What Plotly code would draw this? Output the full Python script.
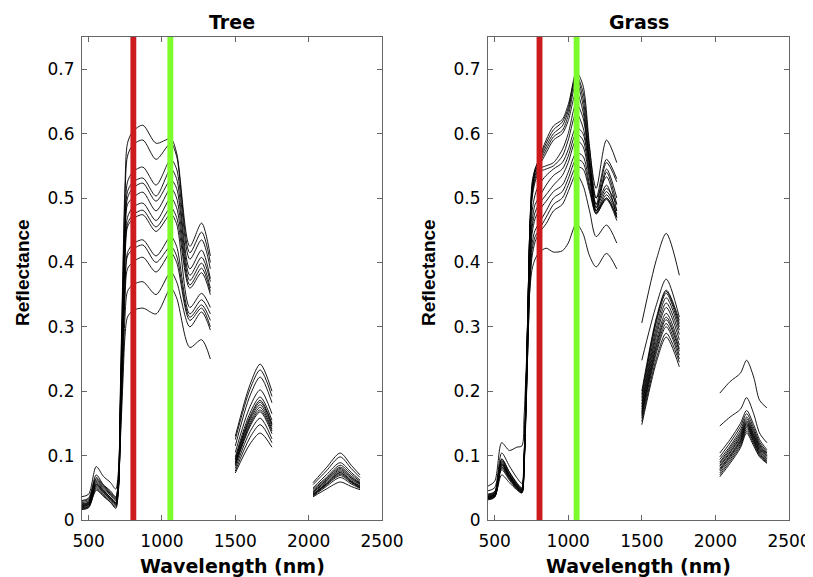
import plotly.graph_objects as go

# ---------------- data ----------------
TREE_WL_A = [450, 500, 552, 600, 650, 685, 703, 718, 733, 748, 765, 800, 870, 960, 1060, 1100, 1190, 1270, 1330]
TREE_A = [
    [0.025, 0.028, 0.060, 0.048, 0.038, 0.030, 0.060, 0.22, 0.38, 0.52, 0.585, 0.603, 0.613, 0.585, 0.592, 0.570, 0.425, 0.461, 0.410],
    [0.020, 0.024, 0.055, 0.045, 0.034, 0.026, 0.055, 0.21, 0.365, 0.50, 0.565, 0.582, 0.590, 0.560, 0.585, 0.565, 0.415, 0.447, 0.400],
    [0.030, 0.034, 0.070, 0.055, 0.045, 0.036, 0.065, 0.20, 0.34, 0.465, 0.525, 0.540, 0.548, 0.520, 0.560, 0.545, 0.405, 0.435, 0.390],
    [0.018, 0.021, 0.050, 0.040, 0.030, 0.022, 0.050, 0.19, 0.33, 0.45, 0.510, 0.524, 0.531, 0.503, 0.545, 0.530, 0.390, 0.419, 0.375],
    [0.022, 0.025, 0.058, 0.046, 0.035, 0.027, 0.055, 0.19, 0.325, 0.445, 0.500, 0.515, 0.523, 0.495, 0.528, 0.515, 0.380, 0.408, 0.370],
    [0.016, 0.019, 0.046, 0.037, 0.027, 0.018, 0.045, 0.185, 0.315, 0.43, 0.490, 0.500, 0.509, 0.480, 0.515, 0.500, 0.372, 0.399, 0.360],
    [0.036, 0.040, 0.083, 0.068, 0.058, 0.048, 0.075, 0.19, 0.31, 0.42, 0.470, 0.485, 0.492, 0.465, 0.500, 0.485, 0.365, 0.391, 0.355],
    [0.024, 0.027, 0.062, 0.050, 0.040, 0.032, 0.060, 0.175, 0.30, 0.41, 0.460, 0.473, 0.481, 0.455, 0.485, 0.470, 0.360, 0.384, 0.350],
    [0.019, 0.022, 0.052, 0.042, 0.032, 0.024, 0.050, 0.17, 0.295, 0.40, 0.455, 0.467, 0.474, 0.448, 0.475, 0.460, 0.330, 0.352, 0.330],
    [0.027, 0.030, 0.064, 0.052, 0.041, 0.033, 0.060, 0.16, 0.27, 0.37, 0.415, 0.428, 0.435, 0.410, 0.440, 0.425, 0.320, 0.342, 0.320],
    [0.021, 0.024, 0.054, 0.043, 0.033, 0.025, 0.050, 0.155, 0.265, 0.36, 0.410, 0.420, 0.427, 0.400, 0.425, 0.410, 0.315, 0.334, 0.310],
    [0.017, 0.020, 0.048, 0.038, 0.028, 0.020, 0.045, 0.15, 0.255, 0.345, 0.390, 0.400, 0.408, 0.385, 0.415, 0.400, 0.310, 0.329, 0.300],
    [0.023, 0.026, 0.056, 0.045, 0.035, 0.027, 0.052, 0.14, 0.23, 0.315, 0.355, 0.365, 0.370, 0.350, 0.385, 0.370, 0.300, 0.323, 0.295],
    [0.029, 0.032, 0.066, 0.054, 0.043, 0.035, 0.060, 0.13, 0.21, 0.285, 0.315, 0.325, 0.329, 0.320, 0.360, 0.345, 0.268, 0.280, 0.250],
]
TREE_WL_B = [1500, 1600, 1670, 1750]
TREE_B = [
    [0.130, 0.210, 0.242, 0.200],
    [0.125, 0.203, 0.233, 0.192],
    [0.115, 0.193, 0.222, 0.182],
    [0.105, 0.176, 0.202, 0.165],
    [0.098, 0.166, 0.191, 0.155],
    [0.095, 0.161, 0.186, 0.150],
    [0.093, 0.158, 0.183, 0.148],
    [0.090, 0.155, 0.179, 0.145],
    [0.088, 0.151, 0.175, 0.141],
    [0.086, 0.148, 0.171, 0.138],
    [0.084, 0.145, 0.168, 0.134],
    [0.080, 0.137, 0.158, 0.126],
    [0.076, 0.128, 0.148, 0.120],
    [0.073, 0.118, 0.135, 0.113],
]
TREE_WL_C = [2030, 2120, 2215, 2290, 2350]
TREE_C = [
    [0.058, 0.081, 0.104, 0.085, 0.070],
    [0.055, 0.076, 0.098, 0.080, 0.066],
    [0.050, 0.070, 0.089, 0.074, 0.062],
    [0.048, 0.066, 0.085, 0.071, 0.060],
    [0.046, 0.064, 0.082, 0.068, 0.058],
    [0.044, 0.062, 0.080, 0.066, 0.057],
    [0.043, 0.061, 0.078, 0.065, 0.056],
    [0.042, 0.059, 0.076, 0.063, 0.055],
    [0.040, 0.057, 0.074, 0.061, 0.053],
    [0.040, 0.056, 0.073, 0.060, 0.052],
    [0.039, 0.055, 0.071, 0.059, 0.051],
    [0.038, 0.054, 0.069, 0.058, 0.050],
    [0.037, 0.052, 0.066, 0.056, 0.049],
    [0.036, 0.048, 0.059, 0.052, 0.047],
]

GRASS_WL_A = [450, 500, 548, 600, 650, 685, 700, 715, 728, 740, 755, 775, 800, 850, 900, 960, 1000, 1055, 1100, 1145, 1190, 1260, 1330]
GRASS_A = [
    [0.040, 0.044, 0.095, 0.075, 0.058, 0.050, 0.100, 0.22, 0.35, 0.46, 0.525, 0.545, 0.560, 0.590, 0.612, 0.622, 0.645, 0.690, 0.665, 0.575, 0.515, 0.590, 0.555],
    [0.034, 0.038, 0.085, 0.068, 0.052, 0.045, 0.095, 0.22, 0.35, 0.46, 0.520, 0.545, 0.558, 0.585, 0.606, 0.618, 0.640, 0.696, 0.675, 0.580, 0.500, 0.560, 0.530],
    [0.036, 0.040, 0.090, 0.070, 0.054, 0.047, 0.095, 0.22, 0.35, 0.455, 0.515, 0.540, 0.555, 0.580, 0.600, 0.612, 0.635, 0.688, 0.655, 0.565, 0.490, 0.555, 0.525],
    [0.031, 0.035, 0.080, 0.064, 0.049, 0.043, 0.090, 0.215, 0.345, 0.455, 0.510, 0.540, 0.552, 0.575, 0.595, 0.605, 0.628, 0.680, 0.645, 0.555, 0.485, 0.545, 0.500],
    [0.038, 0.042, 0.092, 0.072, 0.056, 0.048, 0.095, 0.215, 0.345, 0.450, 0.510, 0.535, 0.548, 0.570, 0.590, 0.600, 0.620, 0.665, 0.635, 0.550, 0.480, 0.540, 0.490],
    [0.033, 0.037, 0.083, 0.066, 0.051, 0.044, 0.090, 0.21, 0.34, 0.445, 0.505, 0.530, 0.545, 0.550, 0.555, 0.575, 0.600, 0.647, 0.625, 0.555, 0.500, 0.533, 0.480],
    [0.035, 0.039, 0.087, 0.069, 0.053, 0.046, 0.090, 0.21, 0.34, 0.440, 0.500, 0.525, 0.540, 0.545, 0.550, 0.565, 0.590, 0.632, 0.610, 0.550, 0.490, 0.520, 0.470],
    [0.032, 0.036, 0.078, 0.062, 0.048, 0.042, 0.085, 0.20, 0.33, 0.425, 0.480, 0.505, 0.520, 0.535, 0.545, 0.555, 0.575, 0.610, 0.600, 0.540, 0.485, 0.515, 0.490],
    [0.037, 0.041, 0.088, 0.070, 0.055, 0.047, 0.090, 0.20, 0.32, 0.410, 0.465, 0.490, 0.500, 0.520, 0.535, 0.545, 0.565, 0.600, 0.590, 0.535, 0.480, 0.510, 0.480],
    [0.034, 0.038, 0.082, 0.065, 0.050, 0.044, 0.085, 0.195, 0.31, 0.400, 0.455, 0.478, 0.490, 0.505, 0.520, 0.535, 0.555, 0.590, 0.580, 0.530, 0.477, 0.505, 0.475],
    [0.039, 0.043, 0.094, 0.074, 0.057, 0.049, 0.090, 0.19, 0.305, 0.395, 0.445, 0.468, 0.480, 0.495, 0.510, 0.520, 0.540, 0.570, 0.565, 0.520, 0.475, 0.500, 0.470],
    [0.036, 0.040, 0.086, 0.068, 0.052, 0.045, 0.085, 0.185, 0.29, 0.380, 0.430, 0.450, 0.460, 0.480, 0.500, 0.510, 0.530, 0.560, 0.555, 0.515, 0.480, 0.500, 0.470],
    [0.033, 0.036, 0.070, 0.058, 0.047, 0.042, 0.080, 0.18, 0.285, 0.370, 0.420, 0.440, 0.450, 0.470, 0.490, 0.500, 0.520, 0.548, 0.545, 0.510, 0.476, 0.498, 0.465],
    [0.045, 0.050, 0.104, 0.084, 0.066, 0.057, 0.100, 0.19, 0.285, 0.365, 0.410, 0.432, 0.445, 0.460, 0.480, 0.490, 0.510, 0.537, 0.520, 0.480, 0.440, 0.458, 0.430],
    [0.052, 0.060, 0.120, 0.108, 0.113, 0.115, 0.160, 0.24, 0.31, 0.360, 0.390, 0.405, 0.415, 0.422, 0.416, 0.418, 0.430, 0.460, 0.445, 0.410, 0.393, 0.414, 0.390],
]
GRASS_WL_B = [1500, 1600, 1666, 1755]
GRASS_B = [
    [0.200, 0.315, 0.357, 0.310],
    [0.195, 0.312, 0.355, 0.305],
    [0.190, 0.308, 0.352, 0.300],
    [0.185, 0.300, 0.345, 0.295],
    [0.180, 0.293, 0.337, 0.288],
    [0.176, 0.287, 0.330, 0.280],
    [0.172, 0.280, 0.321, 0.272],
    [0.168, 0.274, 0.315, 0.266],
    [0.165, 0.270, 0.311, 0.262],
    [0.162, 0.265, 0.305, 0.256],
    [0.158, 0.260, 0.300, 0.250],
    [0.153, 0.252, 0.290, 0.245],
    [0.148, 0.246, 0.284, 0.238],
    [0.248, 0.335, 0.374, 0.315],
    [0.306, 0.405, 0.445, 0.380],
]
GRASS_WL_C = [2030, 2100, 2170, 2212, 2260, 2300, 2350]
GRASS_C = [
    [0.104, 0.125, 0.150, 0.170, 0.148, 0.125, 0.109],
    [0.098, 0.120, 0.145, 0.165, 0.143, 0.121, 0.106],
    [0.094, 0.115, 0.140, 0.160, 0.139, 0.118, 0.104],
    [0.090, 0.112, 0.136, 0.157, 0.136, 0.116, 0.102],
    [0.088, 0.109, 0.133, 0.154, 0.133, 0.114, 0.100],
    [0.085, 0.106, 0.130, 0.152, 0.131, 0.112, 0.099],
    [0.083, 0.104, 0.128, 0.150, 0.129, 0.110, 0.097],
    [0.080, 0.101, 0.125, 0.148, 0.127, 0.108, 0.095],
    [0.078, 0.099, 0.123, 0.146, 0.125, 0.106, 0.094],
    [0.076, 0.097, 0.121, 0.144, 0.123, 0.104, 0.092],
    [0.073, 0.094, 0.118, 0.141, 0.121, 0.102, 0.091],
    [0.070, 0.091, 0.115, 0.138, 0.118, 0.100, 0.089],
    [0.067, 0.088, 0.112, 0.135, 0.115, 0.098, 0.088],
    [0.146, 0.160, 0.172, 0.190, 0.165, 0.135, 0.120],
    [0.197, 0.215, 0.228, 0.248, 0.222, 0.186, 0.174],
]

RED_BAND = [785, 825]
GREEN_BAND = [1037, 1077]
X_TICKS = [500, 1000, 1500, 2000, 2500]
Y_TICKS = [0, 0.1, 0.2, 0.3, 0.4, 0.5, 0.6, 0.7]
Y_TICK_TEXT = ["0", "0.1", "0.2", "0.3", "0.4", "0.5", "0.6", "0.7"]
PANEL_TITLES = ["Tree", "Grass"]

# ---------------- figure ----------------
OFF = 8  # page body margin
W, H = 813 - OFF, 577 - OFF
fig = go.Figure()


def add_panel(segs, xa, ya):
    wl_a, a, wl_b, b, wl_c, c = segs
    for i in range(len(a)):
        xs = list(wl_a) + [None] + list(wl_b) + [None] + list(wl_c)
        ys = list(a[i]) + [None] + list(b[i]) + [None] + list(c[i])
        fig.add_trace(go.Scatter(
            x=xs, y=ys, mode="lines", xaxis=xa, yaxis=ya,
            line=dict(color="black", width=0.9, shape="spline", smoothing=0.8),
            connectgaps=False, showlegend=False, hoverinfo="skip"))


add_panel((TREE_WL_A, TREE_A, TREE_WL_B, TREE_B, TREE_WL_C, TREE_C), "x", "y")
add_panel((GRASS_WL_A, GRASS_A, GRASS_WL_B, GRASS_B, GRASS_WL_C, GRASS_C), "x2", "y2")

# vertical bands (drawn above the lines)
for xr, yr in (("x", "y domain"), ("x2", "y2 domain")):
    for band, col in ((RED_BAND, "#CC1B1E"), (GREEN_BAND, "#7CFC2A")):
        fig.add_shape(type="rect", xref=xr, yref=yr, x0=band[0], x1=band[1],
                      y0=0, y1=1, fillcolor=col, line=dict(width=0), layer="above")


def px_x(p):
    return (p - OFF) / W


def px_y(p):
    return (H - (p - OFF)) / H


ydom = [px_y(520), px_y(37)]
tick_font = dict(family="DejaVu Sans", size=17, color="black")
axis_common = dict(showgrid=False, zeroline=False, showline=True, linecolor="#666",
                   linewidth=1, mirror="ticks", ticks="inside", ticklen=5,
                   tickcolor="#666", tickfont=tick_font, automargin=False)

fig.update_layout(
    width=W, height=H, paper_bgcolor="white", plot_bgcolor="white",
    margin=dict(l=0, r=0, t=0, b=0, autoexpand=False), showlegend=False,
    xaxis=dict(domain=[px_x(82), px_x(382)], range=[455, 2500], tickvals=X_TICKS,
               anchor="y", ticklabelstandoff=6, **axis_common),
    yaxis=dict(domain=ydom, range=[0, 0.75], tickvals=Y_TICKS, ticktext=Y_TICK_TEXT,
               anchor="x", ticklabelstandoff=3, **axis_common),
    xaxis2=dict(domain=[px_x(488), px_x(789)], range=[455, 2500], tickvals=X_TICKS,
                anchor="y2", ticklabelstandoff=6, **axis_common),
    yaxis2=dict(domain=ydom, range=[0, 0.75], tickvals=Y_TICKS, ticktext=Y_TICK_TEXT,
                anchor="x2", ticklabelstandoff=3, **axis_common),
)

title_font = dict(family="DejaVu Sans", size=19, color="black")
centers = [232, 638.5]
ylab_x = [22, 428]
for k in range(2):
    fig.add_annotation(text="<b>%s</b>" % PANEL_TITLES[k], xref="paper", yref="paper",
                       x=px_x(centers[k]), y=px_y(22), showarrow=False,
                       xanchor="center", yanchor="middle", font=title_font)
    fig.add_annotation(text="<b>Wavelength (nm)</b>", xref="paper", yref="paper",
                       x=px_x(centers[k]), y=px_y(566), showarrow=False,
                       xanchor="center", yanchor="middle", font=title_font)
    fig.add_annotation(text="<b>Reflectance</b>", xref="paper", yref="paper",
                       x=px_x(ylab_x[k]), y=px_y(273), showarrow=False, textangle=-90,
                       xanchor="center", yanchor="middle",
                       font=dict(family="Liberation Sans", size=19, color="black"))

fig.write_html("out.html")
